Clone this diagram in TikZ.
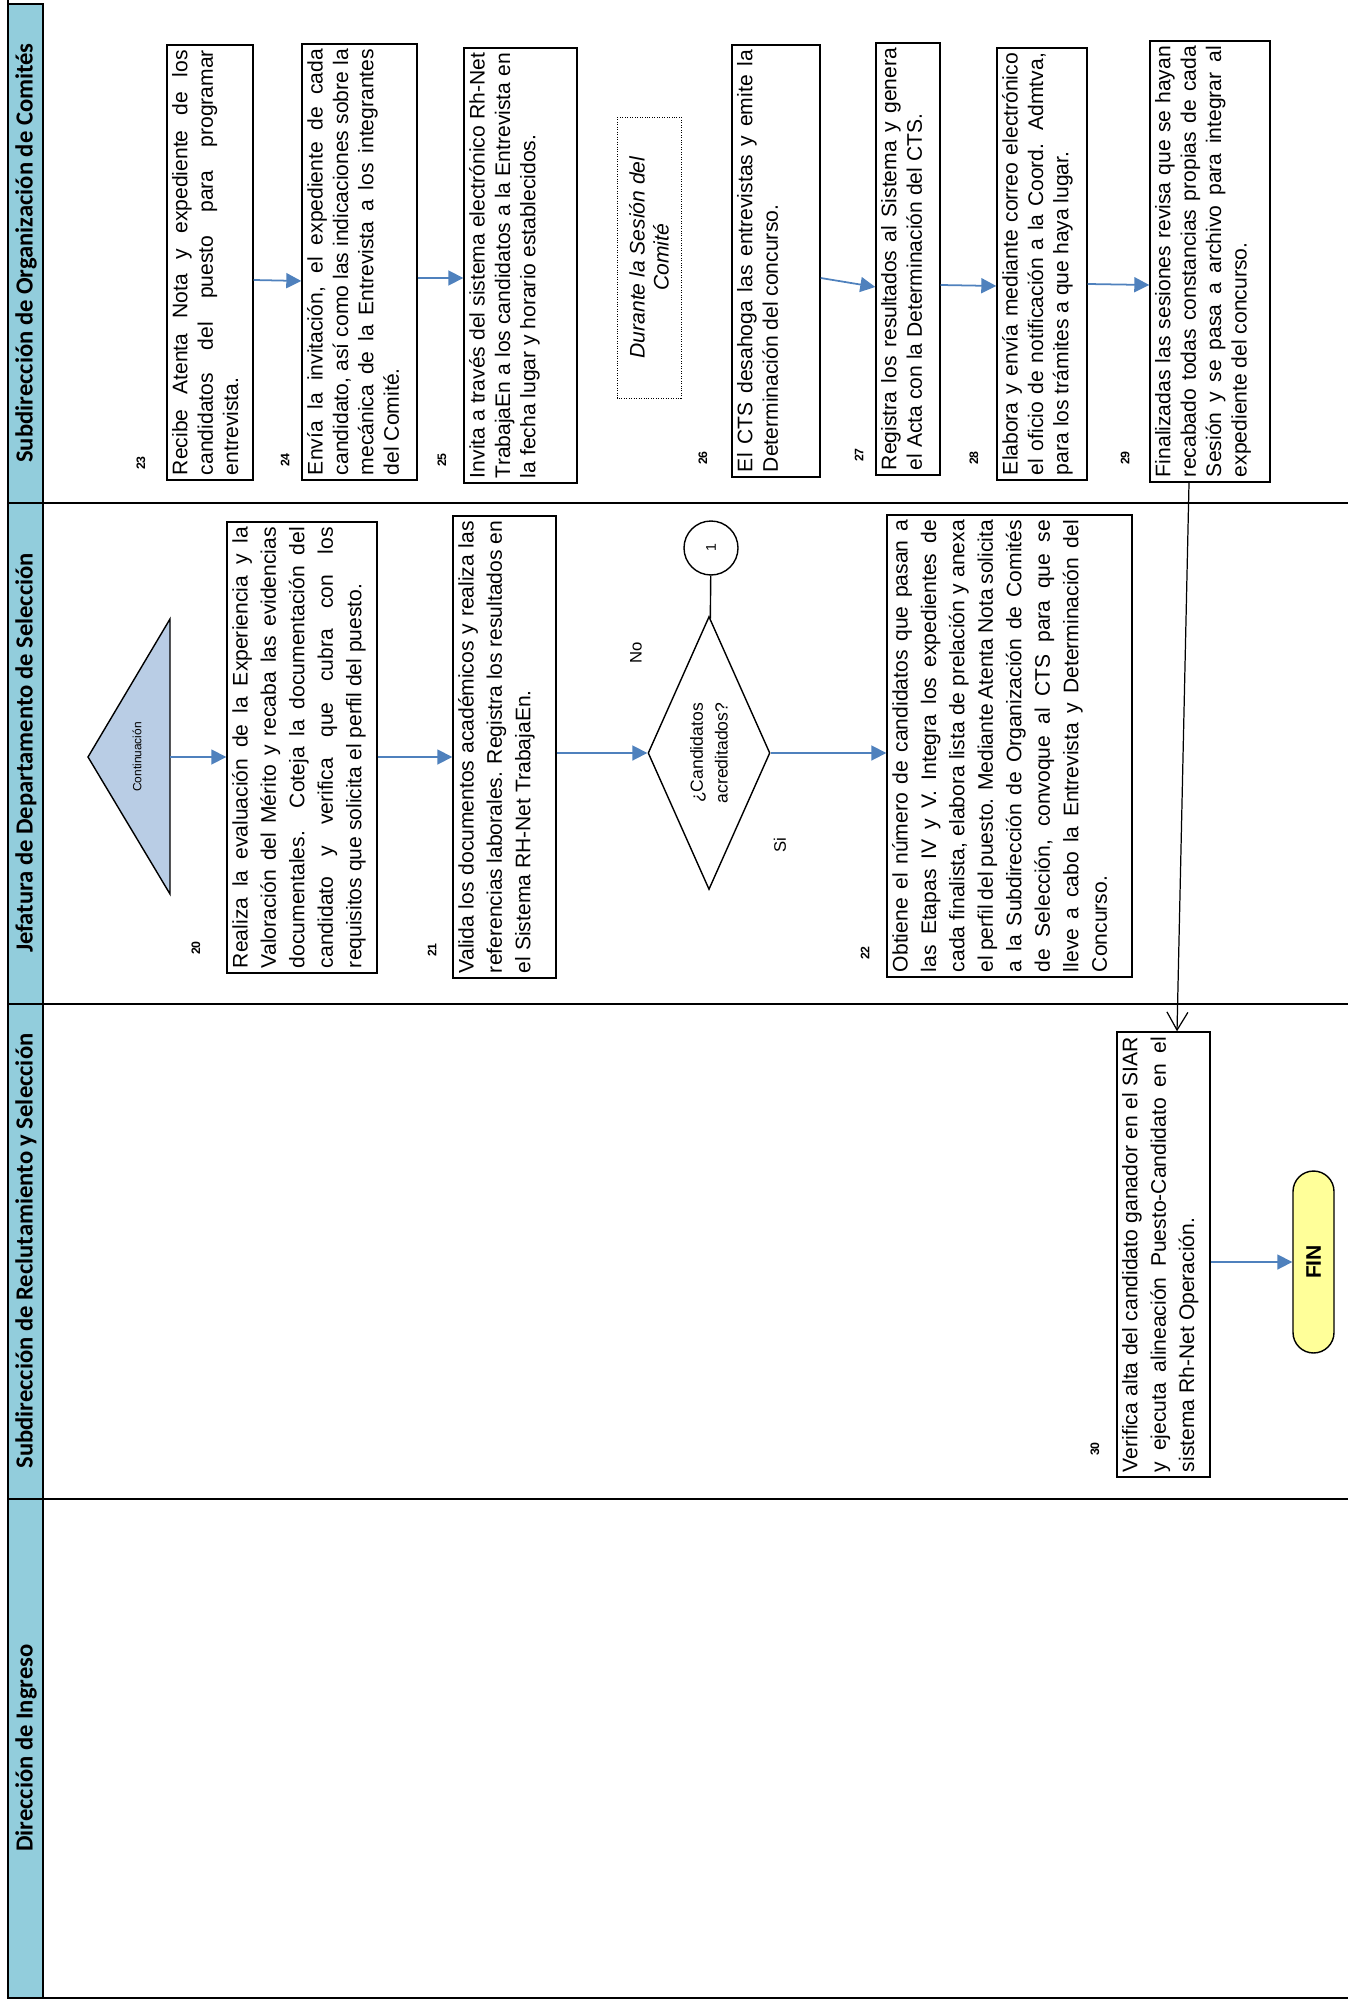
\documentclass[tikz,border=0pt]{standalone}
\usepackage{fontspec}
\setmainfont{Liberation Sans}
\newfontfamily\hdrfont{Carlito}
\usepackage{tikz}
\usetikzlibrary{arrows.meta, shapes.geometric}
\usepackage{xcolor}

\definecolor{lanehead}{HTML}{92CDDC}
\definecolor{contfill}{HTML}{B9CDE5}
\definecolor{flowblue}{HTML}{4F81BD}
\definecolor{finfill}{HTML}{FFFF99}

\newdimen\pxu
\pxu=0.02cm
\newcommand{\actbox}[3]{\parbox[c][#2\pxu][t]{#1\pxu}{#3}}

\tikzset{
    carril/.style={draw, line width=1.2pt, fill=lanehead},
    titulo/.style={rotate=90, font=\hdrfont\bfseries\fontsize{14}{16}\selectfont},
    actividad/.style={draw, thick, rotate=90, inner sep=0.1cm, font=\fontsize{12}{14.5}\selectfont},
    actividadj/.style={actividad, font=\fontsize{12}{16.2}\selectfont},
    numero/.style={rotate=90, font=\bfseries\fontsize{7}{8}\selectfont},
    flujo/.style={draw=flowblue, line width=1pt, -{Triangle[length=0.3cm, width=0.3cm]}},
    enlace/.style={line width=0.7pt, -{Straight Barb[length=0.36cm, width=0.42cm]}}
}

\begin{document}
\begin{tikzpicture}[x=0.02cm, y=-0.02cm]
    \useasboundingbox (0,0) rectangle (1348,2003);

    % encabezados de carril
    \draw[carril] (8,4) rectangle (43,503);
    \draw[carril] (8,503) rectangle (43,1004);
    \draw[carril] (8,1004) rectangle (43,1499);
    \draw[carril] (8,1499) rectangle (43,1998);
    \node[titulo] (tcom) at (26,253) {Subdirección de Organización de Comités};
    \node[titulo] (tjef) at (26,753) {Jefatura de Departamento de Selección};
    \node[titulo] (trec) at (26,1251) {Subdirección de Reclutamiento y Selección};
    \node[titulo] (ting) at (26,1748) {Dirección de Ingreso};
    \draw[line width=0.6pt] (43,503) -- (1348,503);
    \draw[line width=0.6pt] (43,1004) -- (1348,1004);
    \draw[line width=1.1pt] (43,1499) -- (1348,1499);
    \draw[line width=1.6pt] (8,0) -- (8,1998) -- (1348,1998);

    % Subdireccion de Organizacion de Comites
    \node[numero] (n23) at (141,463) {23};
    \node[actividad] (b23) at (210,262.5) {\actbox{425}{76}{Recibe Atenta Nota y expediente de los\linebreak candidatos del puesto para programar\linebreak entrevista.}};
    \node[numero] (n24) at (285,460) {24};
    \node[actividad] (b24) at (359.5,262) {\actbox{426}{105}{Envía la invitación, el expediente de cada\linebreak candidato, así como las indicaciones sobre la\linebreak mecánica de la Entrevista a los integrantes\linebreak del Comité.}};
    \node[numero] (n25) at (442,460) {25};
    \node[actividad] (b25) at (520.5,265.5) {\actbox{425}{103}{Invita a través del sistema electrónico Rh-Net\linebreak TrabajaEn a los candidatos a la Entrevista en\linebreak la fecha lugar y horario establecidos.}};
    \node[draw, densely dotted, rotate=90, align=center, minimum width=5.62cm, minimum height=1.28cm,
        font=\itshape\fontsize{12}{13.7}\selectfont] (ses) at (649,257.5) {Durante la Sesión del\\Comité};
    \node[numero] (n26) at (703,458) {26};
    \node[actividad] (b26) at (776,261) {\actbox{422}{78}{El CTS desahoga las entrevistas y emite la\linebreak Determinación del concurso.}};
    \node[numero] (n27) at (859,455) {27};
    \node[actividad] (b27) at (908,259) {\actbox{422}{54}{Registra los resultados al Sistema y genera\linebreak el Acta con la Determinación del CTS.}};
    \node[numero] (n28) at (974,458) {28};
    \node[actividad] (b28) at (1042,264) {\actbox{422}{80}{Elabora y envía mediante correo electrónico\linebreak el oficio de notificación a la Coord. Admtva,\linebreak para los trámites a que haya lugar.}};
    \node[numero] (n29) at (1125,458) {29};
    \node[actividad] (b29) at (1210,261.5) {\actbox{431}{110}{Finalizadas las sesiones revisa que se hayan\linebreak recabado todas constancias propias de cada\linebreak Sesión y se pasa a archivo para integrar al\linebreak expediente del concurso.}};

    % Jefatura de Departamento de Seleccion
    \draw[thick, fill=contfill] (88,757) -- (170,619) -- (170,894) -- cycle;
    \node[rotate=90, font=\fontsize{6.8}{8}\selectfont] (cont) at (137,757) {Continuación};
    \coordinate (contbase) at (170,757);
    \node[numero] (n20) at (196,948) {20};
    \node[actividadj] (b20) at (302,747.5) {\actbox{441}{140}{Realiza la evaluación de la Experiencia y la\linebreak Valoración del Mérito y recaba las evidencias\linebreak documentales. Coteja la documentación del\linebreak candidato y verifica que cubra con los\linebreak requisitos que solicita el perfil del puesto.}};
    \node[numero] (n21) at (432,950) {21};
    \node[actividadj] (b21) at (504.5,747) {\actbox{452}{93}{Valida los documentos académicos y realiza las\linebreak referencias laborales. Registra los resultados en\linebreak el Sistema RH-Net TrabajaEn.}};
    \node[circle, draw, thick, rotate=90, minimum size=1.08cm, inner sep=0pt,
        font=\fontsize{8}{9}\selectfont] (c1) at (711,548) {1};
    \node[diamond, draw, thick, rotate=90, aspect=2.24, minimum width=5.46cm, minimum height=2.44cm,
        inner sep=0pt, align=center, font=\fontsize{10}{14}\selectfont] (dec) at (709,753) {¿Candidatos\\acreditados?};
    \node[rotate=90, font=\fontsize{9.5}{11}\selectfont] (lno) at (636,653) {No};
    \node[rotate=90, font=\fontsize{9.5}{11}\selectfont] (lsi) at (780,845) {Si};
    \node[numero] (n22) at (865,953) {22};
    \node[actividadj] (b22) at (1009.5,746) {\actbox{452}{235}{Obtiene el número de candidatos que pasan a\linebreak las Etapas IV y V. Integra los expedientes de\linebreak cada finalista, elabora lista de prelación y anexa\linebreak el perfil del puesto. Mediante Atenta Nota solicita\linebreak a la Subdirección de Organización de Comités\linebreak de Selección, convoque al CTS para que se\linebreak lleve a cabo la Entrevista y Determinación del\linebreak Concurso.}};

    % Subdireccion de Reclutamiento y Seleccion
    \node[numero] (n30) at (1095,1449) {30};
    \node[actividadj] (b30) at (1163.5,1254.5) {\actbox{435}{83}{Verifica alta del candidato ganador en el SIAR\linebreak y ejecuta alineación Puesto-Candidato en el\linebreak sistema Rh-Net Operación.}};
    \node[draw, thick, fill=finfill, rotate=90, rounded corners=0.41cm, minimum width=3.64cm, minimum height=0.82cm,
        font=\bfseries\fontsize{12}{14}\selectfont] (fin) at (1313.5,1262) {FIN};

    % conectores
    \draw[flujo] (contbase) -- (b20.north |- contbase);
    \draw[flujo] (b20.south |- contbase) -- (b21.north |- contbase);
    \draw[flujo] (b21.south |- dec) -- (dec.north);
    \draw[flujo] (dec.south) -- (b22.north |- dec);
    \draw[thick] (c1) -- (dec);
    \draw[flujo] (b23.south |- 0,280) -- (b24.north |- 0,281);
    \draw[flujo] (b24.south |- 0,278) -- (b25.north |- 0,278);
    \draw[flujo] (b26.south |- 0,278) -- (b27.north |- 0,287);
    \draw[flujo] (b27.south |- 0,285) -- (b28.north |- 0,286);
    \draw[flujo] (b28.south |- 0,284) -- (b29.north |- 0,285);
    \draw[enlace] (1189,0 |- b29.west) -- (1177,0 |- b30.east);
    \draw[flujo] (b30.south |- fin) -- (fin.north);
\end{tikzpicture}
\end{document}
